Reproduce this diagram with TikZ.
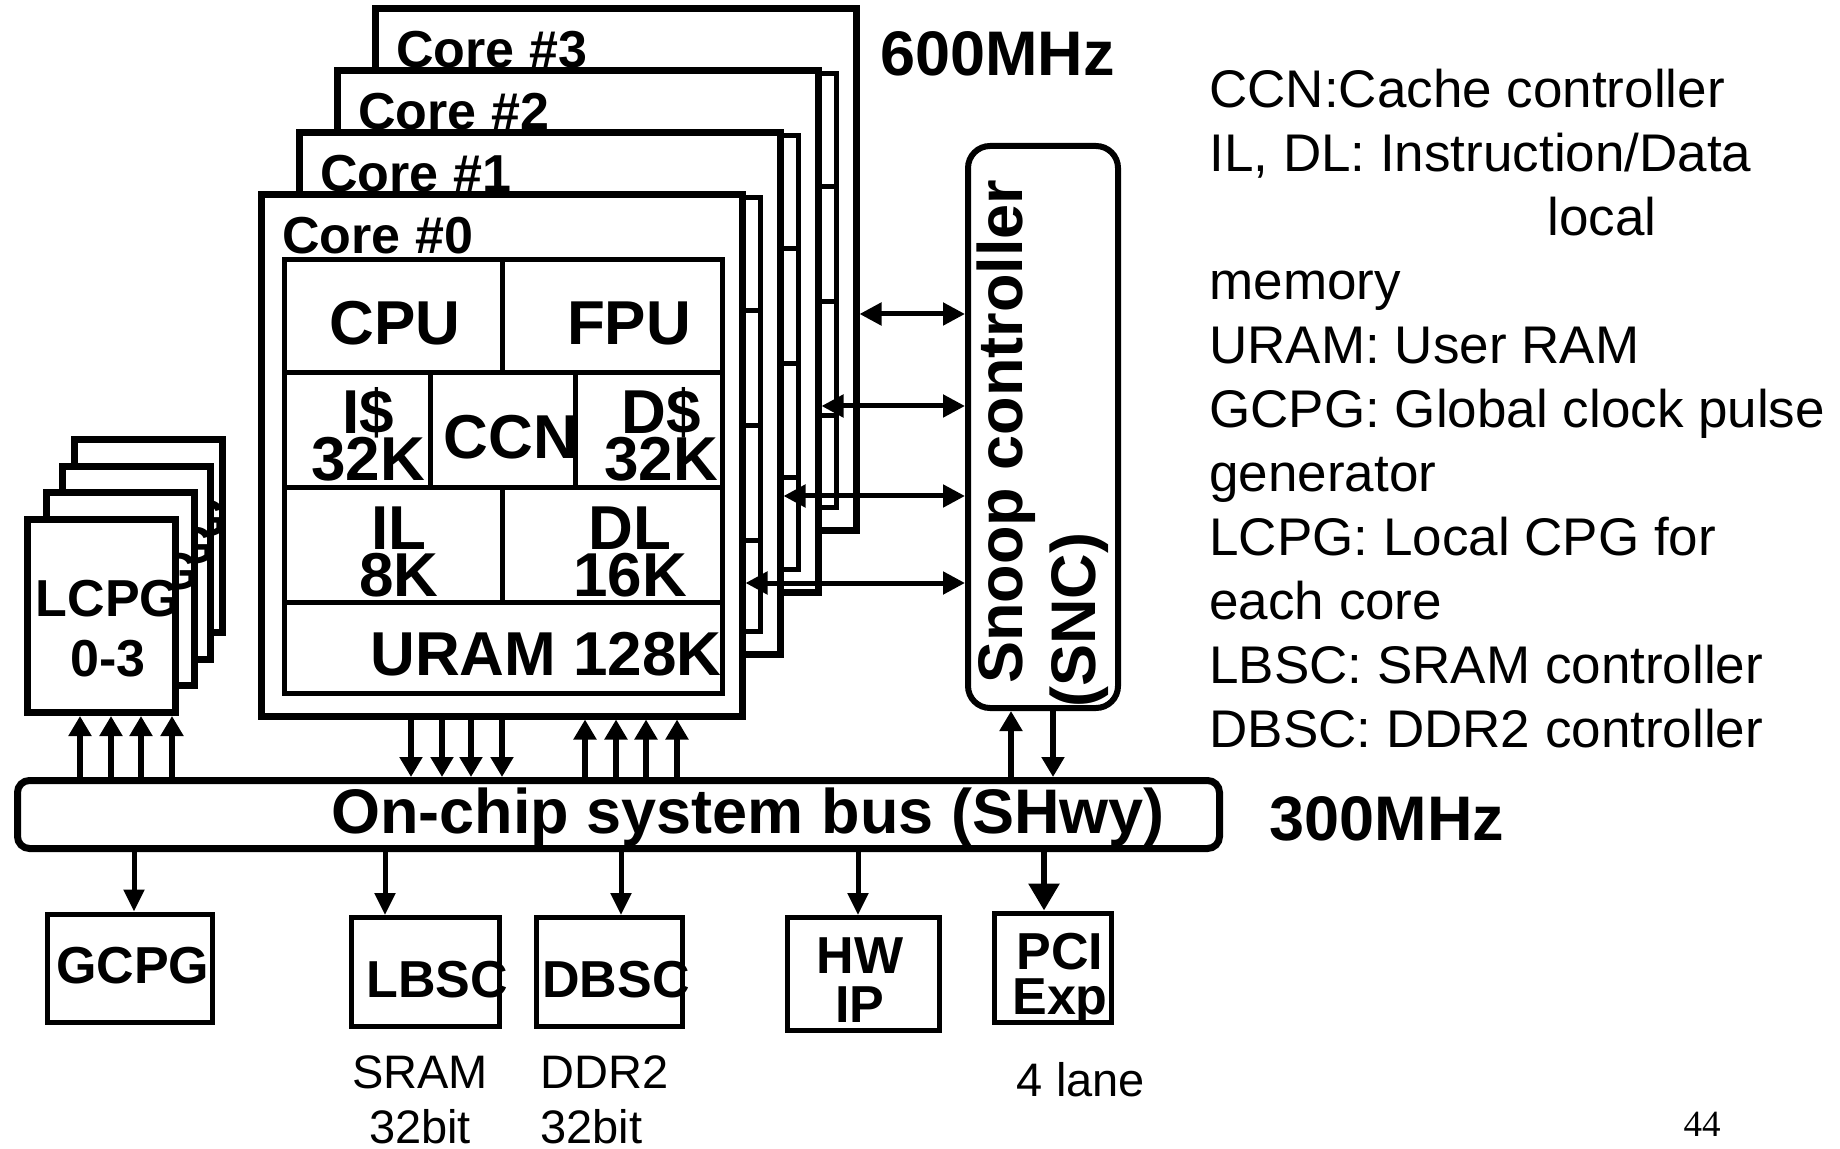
\documentclass[tikz,border=0pt]{standalone}
\usepackage{fontspec}
\setmainfont{Liberation Sans}
\newfontfamily\pagenumfont{Liberation Serif}
\usetikzlibrary{arrows.meta}
\newcommand{\tightlines}{\lineskiplimit=-100pt\relax}

\tikzset{
	coreframe/.style={draw, line width=3.5pt, fill=white, inner sep=0pt},
	gridline/.style={line width=2.5pt},
	unitbox/.style={draw, line width=2.5pt, fill=white, inner sep=0pt},
	corelabel/.style={font=\bfseries\fontsize{26}{26}\selectfont, inner sep=0pt},
	celltext/.style={font=\bfseries\fontsize{31}{23.5}\selectfont\tightlines, inner sep=0pt, align=center},
	unittext/.style={font=\bfseries\fontsize{26}{24.5}\selectfont\tightlines, inner sep=0pt, align=center},
	bigtext/.style={font=\bfseries\fontsize{31.5}{36.5}\selectfont, inner sep=0pt},
	note/.style={font=\fontsize{23.5}{27.5}\selectfont, inner sep=0pt},
	busarrow/.style={line width=3pt, -{Triangle[width=11pt,length=10pt]}},
	smallarrow/.style={line width=2.5pt, -{Triangle[width=10pt,length=11pt]}},
	pciarrow/.style={line width=3pt, -{Triangle[width=15pt,length=13.5pt]}},
	snoopline/.style={line width=2.5pt, {Triangle[width=11pt,length=11pt]}-{Triangle[width=11pt,length=11pt]}},
}

\begin{document}
\begin{tikzpicture}[x=0.5pt, y=-0.5pt]
	\useasboundingbox (0,0) rectangle (1840,1149);

	% cores, back to front
	\foreach \k in {3,2,1,0}{
		\begin{scope}[shift={(38*\k,-62*\k)}]
			\node[coreframe, minimum width=240.5pt, minimum height=260.5pt] (core\k) at (501.5,455.5) {};
			\node[corelabel, anchor=base west] (corelbl\k) at (282,254) {Core \#\k};
			\draw[gridline] (284,260) rectangle (722,693);
			\draw[gridline] (284,373) -- (722,373) (284,488) -- (722,488) (284,602) -- (722,602)
				(502,260) -- (502,373) (430,373) -- (430,488) (575,373) -- (575,488) (502,488) -- (502,602);
		\end{scope}
	}
	\node[celltext] (cpu) at (395,323) {CPU};
	\node[celltext] (fpu) at (629,323) {FPU};
	\node[celltext] (icache) at (368,434) {I\$\\32K};
	\node[celltext] (ccn) at (511,437) {CCN};
	\node[celltext] (dcache) at (661,434) {D\$\\32K};
	\node[celltext] (il) at (399,552) {IL\\8K};
	\node[celltext] (dl) at (630,552) {DL\\16K};
	\node[celltext] (uram) at (546,654) {URAM 128K};

	% local clock pulse generators
	\foreach \k/\dx/\dy in {3/47/-80,2/35/-53,1/19/-27,0/0/0}{
		\node[coreframe, minimum width=74pt, minimum height=96.5pt] (lcpg\k) at (101.5+\dx,616+\dy) {};
		\node[unittext, font=\bfseries\fontsize{26}{30}\selectfont] (lcpgtxt\k) at (108+\dx,629+\dy) {LCPG\\0-3};
	}

	% bus and snoop controller
	\node[draw, line width=3.5pt, rounded corners=6pt, minimum width=601pt, minimum height=34pt, inner sep=0pt] (bus) at (618.5,814.5) {};
	\node[bigtext] (bustxt) at (748,817) {On-chip system bus (SHwy)};
	\node[draw, line width=3pt, rounded corners=11pt, minimum width=75pt, minimum height=281pt, inner sep=0pt] (snc) at (1043,427) {};
	\node[bigtext, rotate=90, anchor=west, align=left] (snctxt) at (1043,708) {\hspace*{12pt}Snoop controller\\(SNC)};
	\node[bigtext] (fast) at (997.5,54) {600MHz};
	\node[bigtext] (slow) at (1387,819) {300MHz};

	\foreach \k/\y in {3/314,2/406,1/496,0/583}
		\draw[snoopline] (core\k.east |- 0,\y) -- (snc.west |- 0,\y);
	\draw[busarrow] (bus.north -| 1011,0) -- (snc.south -| 1011,0);
	\draw[busarrow] (snc.south -| 1053,0) -- (bus.north -| 1053,0);
	\foreach \x in {411,442,471,502}
		\draw[busarrow] (core0.south -| \x,0) -- (bus.north -| \x,0);
	\foreach \x in {585,616,646,677}
		\draw[busarrow] (bus.north -| \x,0) -- (core0.south -| \x,0);
	\foreach \x in {80,111,141,172}
		\draw[busarrow] (bus.north -| \x,0) -- (lcpg0.south -| \x,0);

	% peripherals
	\node[unitbox, minimum width=82.5pt, minimum height=54pt] (gcpg) at (129.5,968) {};
	\node[unittext] (gcpgtxt) at (132.6,966) {GCPG};
	\node[unitbox, minimum width=74pt, minimum height=54.5pt] (lbsc) at (425,972) {};
	\node[unittext] (lbsctxt) at (437,980) {LBSC};
	\node[unitbox, minimum width=73pt, minimum height=54.5pt] (dbsc) at (609.5,972) {};
	\node[unittext] (dbsctxt) at (616,980) {DBSC};
	\node[unitbox, minimum width=76pt, minimum height=56.5pt] (hwip) at (863.5,974) {};
	\node[unittext] (hwiptxt) at (860,980) {HW\\IP};
	\node[unitbox, minimum width=58.5pt, minimum height=54.5pt] (pci) at (1052.5,967.5) {};
	\node[unittext, font=\bfseries\fontsize{26}{22.5}\selectfont\tightlines] (pcitxt) at (1060,979) {PCI\\Exp};

	\draw[smallarrow] (bus.south -| 134,0) -- (gcpg.north -| 134,0);
	\draw[smallarrow] (bus.south -| 385,0) -- (lbsc.north -| 385,0);
	\draw[smallarrow] (bus.south -| 621,0) -- (dbsc.north -| 621,0);
	\draw[smallarrow] (bus.south -| 858,0) -- (hwip.north -| 858,0);
	\draw[pciarrow] (bus.south -| 1044,0) -- (pci.north -| 1044,0);

	\node[note, align=center] (sram) at (420,1100) {SRAM\\32bit};
	\node[note, align=left, anchor=west] (ddr) at (540,1100) {DDR2\\32bit};
	\node[note] (lane) at (1081,1080) {4 lane};
	\node[font=\pagenumfont\fontsize{18.5}{20}\selectfont, inner sep=0pt] (pagenum) at (1702,1124) {44};

	\node[font=\fontsize{26.5}{32}\selectfont, align=left, anchor=north west, inner sep=0pt] (legend) at (1209,69)
		{CCN:Cache controller\\IL, DL: Instruction/Data\\\hspace*{169pt}local\\memory\\URAM: User RAM\\GCPG: Global clock pulse\\generator\\LCPG: Local CPG for\\each core\\LBSC: SRAM controller\\DBSC: DDR2 controller};
\end{tikzpicture}
\end{document}
